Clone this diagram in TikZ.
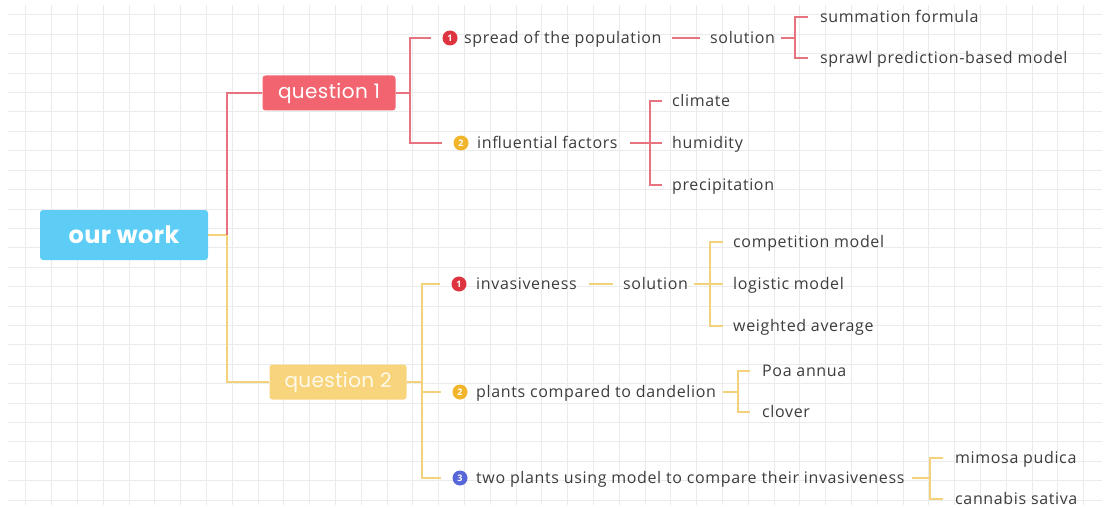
\documentclass[tikz,border=0pt]{standalone}
\usepackage{fontspec}
\setmainfont{Open Sans}[LetterSpace=4]
\newfontfamily\boxfont{Poppins}[LetterSpace=2]
\usetikzlibrary{positioning}
\tikzset{>=stealth}
\definecolor{rootColor}{HTML}{5DCDF6}
\definecolor{redColor}{HTML}{F2646F}
\definecolor{redLine}{HTML}{E6737D}
\definecolor{yelColor}{HTML}{F8D57C}
\definecolor{yelLine}{HTML}{F4D27C}
\definecolor{badgeRed}{HTML}{DE3440}
\definecolor{badgeYel}{HTML}{F1B52C}
\definecolor{badgeBlue}{HTML}{5767D9}
\definecolor{penColor}{HTML}{3C3C3C}
\definecolor{gridColor}{HTML}{EBEBEB}
\tikzset{
  topic/.style={rounded corners=3pt,text=white,font=\boxfont\fontsize{20}{20}\selectfont,minimum height=35pt},
  item/.style={anchor=west,inner sep=0pt,text=penColor,font=\fontsize{16}{16}\selectfont,text height=14pt,text depth=2.5pt},
  badge/.style={circle,inner sep=0pt,minimum size=15pt,text=white,font=\fontsize{9}{9}\selectfont\bfseries},
  redlink/.style={draw=redLine,line width=1.3pt},
  yellink/.style={draw=yelLine,line width=1.3pt},
}

\begin{document}
\begin{tikzpicture}[x=1pt,y=-1pt]
  \useasboundingbox (0,0) rectangle (1110,508);
  % grid paper
  \foreach \k in {1,...,42}
    \draw[gridColor,line width=1pt] (25.8*\k,5) -- (25.8*\k,505);
  \foreach \k in {0,...,25}
    \draw[gridColor,line width=1pt] (8,15+19.4*\k) -- (1102,15+19.4*\k);

  % main topics
  \node[topic,fill=rootColor,minimum width=168pt,minimum height=50pt,
        font=\boxfont\bfseries\fontsize{24}{24}\selectfont] (root) at (124,235) {our work};
  \node[topic,fill=redColor,minimum width=133pt] (q1) at (329,93) {question 1};
  \node[topic,fill=yelColor,minimum width=137pt,text=white!85!yelColor] (q2) at (338,382) {question 2};
  \coordinate (jr) at (227,235);
  \draw[yellink] (root.east) -- (jr) |- (q2.west);
  \draw[redlink] (jr) |- (q1.west);

  % question 1
  \coordinate (j1) at (410,93);
  \node[badge,fill=badgeRed] (b11) at (450,38) {1};
  \node[item] (t11) at (464,38) {spread of the population};
  \node[item] (s11) at (710,38) {solution};
  \coordinate (j11) at (795,38);
  \node[item] (l111) at (820,17) {summation formula};
  \node[item] (l112) at (820,58) {sprawl prediction-based model};
  \node[badge,fill=badgeYel] (b12) at (461,143) {2};
  \node[item] (t12) at (477,143) {influential factors};
  \coordinate (j12) at (650,143);
  \node[item] (l121) at (672,101) {climate};
  \node[item] (l122) at (672,143) {humidity};
  \node[item] (l123) at (672,185) {precipitation};

  \draw[redlink] (q1.east) -- (j1) |- ([xshift=-11pt]b11.west);
  \draw[redlink] (j1) |- ([xshift=-11pt]b12.west);
  \draw[redlink,shorten <=10pt,shorten >=10pt] (t11.east) -- (s11.west);
  \draw[redlink,shorten <=6pt] (s11.east) -- (j11);
  \foreach \n in {l111,l112}
    \draw[redlink,shorten >=12pt] (j11) |- (\n.west);
  \draw[redlink,shorten <=12pt] (t12.east) -- (j12);
  \foreach \n in {l121,l122,l123}
    \draw[redlink,shorten >=10pt] (j12) |- (\n.west);

  % question 2
  \coordinate (j2) at (422,382);
  \node[badge,fill=badgeRed] (b21) at (459,284) {1};
  \node[item] (t21) at (476,284) {invasiveness};
  \node[item] (s21) at (623,284) {solution};
  \coordinate (j21) at (710,284);
  \node[item] (l211) at (733,242) {competition model};
  \node[item] (l212) at (733,284) {logistic model};
  \node[item] (l213) at (733,326) {weighted average};
  \node[badge,fill=badgeYel] (b22) at (460,392) {2};
  \node[item] (t22) at (476,392) {plants compared to dandelion};
  \coordinate (j22) at (738,392);
  \node[item] (l221) at (762,371) {Poa annua};
  \node[item] (l222) at (762,412) {clover};
  \node[badge,fill=badgeBlue] (b23) at (460,478) {3};
  \node[item] (t23) at (476,478) {two plants using model to compare their invasiveness};
  \coordinate (j23) at (930,478);
  \node[item] (l231) at (955,458) {mimosa pudica};
  \node[item] (l232) at (955,499) {cannabis sativa};

  \draw[yellink] (q2.east) -- (j2);
  \foreach \b in {b21,b22,b23}
    \draw[yellink] (j2) |- ([xshift=-11pt]\b.west);
  \draw[yellink,shorten <=12pt,shorten >=10pt] (t21.east) -- (s21.west);
  \draw[yellink,shorten <=6pt] (s21.east) -- (j21);
  \foreach \n in {l211,l212,l213}
    \draw[yellink,shorten >=10pt] (j21) |- (\n.west);
  \draw[yellink,shorten <=7pt] (t22.east) -- (j22);
  \foreach \n in {l221,l222}
    \draw[yellink,shorten >=12pt] (j22) |- (\n.west);
  \draw[yellink,shorten <=7pt] (t23.east) -- (j23);
  \foreach \n in {l231,l232}
    \draw[yellink,shorten >=12pt] (j23) |- (\n.west);
\end{tikzpicture}
\end{document}
